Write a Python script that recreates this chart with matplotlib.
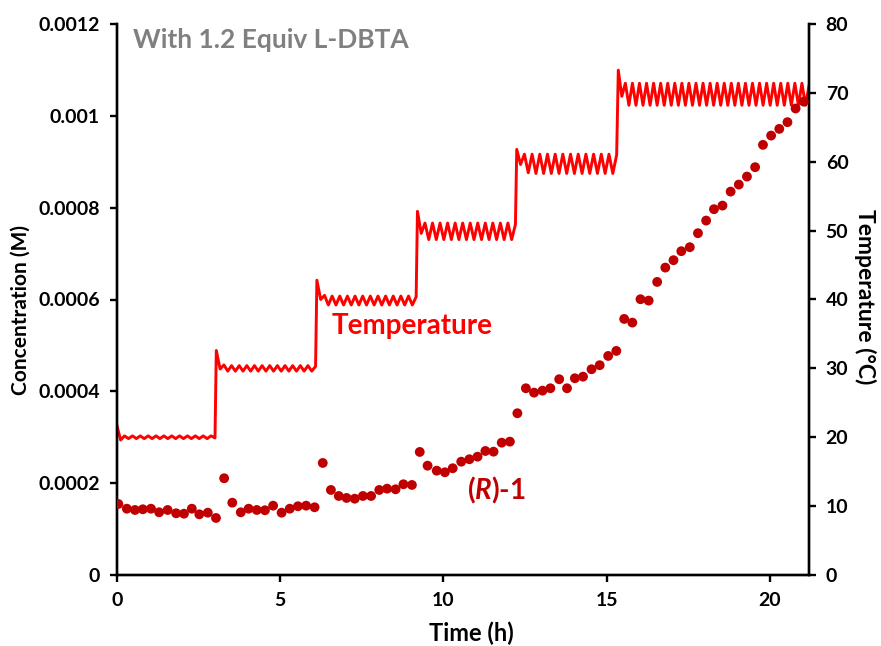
import numpy as np
import matplotlib
matplotlib.use("Agg")
import matplotlib.pyplot as plt

plt.rcParams['font.family'] = ['Lato', 'DejaVu Sans']
plt.rcParams['font.weight'] = 'bold'
plt.rcParams['mathtext.fontset'] = 'custom'
plt.rcParams['mathtext.it'] = 'Lato:italic:bold'
plt.rcParams['mathtext.rm'] = 'Lato:bold'

# ---- (R)-1 concentration data ----
conc_time = [0.05, 0.31, 0.56, 0.80, 1.05, 1.30, 1.56, 1.82, 2.06, 2.30, 2.53, 2.79, 3.04,
             3.29, 3.54, 3.80, 4.04, 4.29, 4.54, 4.79, 5.05, 5.30, 5.55, 5.80, 6.06,
             6.31, 6.56, 6.80, 7.04, 7.29, 7.54, 7.79, 8.04, 8.28, 8.54, 8.78, 9.04,
             9.28, 9.52, 9.80, 10.05, 10.29, 10.55, 10.80, 11.05, 11.29, 11.54, 11.79, 12.04,
             12.27, 12.53, 12.78, 13.04, 13.28, 13.55, 13.79, 14.03, 14.28, 14.54, 14.79, 15.05,
             15.30, 15.54, 15.79, 16.04, 16.29, 16.55, 16.80, 17.05, 17.29, 17.55, 17.80, 18.05,
             18.29, 18.55, 18.80, 19.05, 19.30, 19.55, 19.79, 20.04, 20.29, 20.54, 20.79, 21.04]
conc_value = [0.0001547, 0.0001444, 0.0001416, 0.0001431, 0.0001444, 0.0001366, 0.0001416,
              0.0001344, 0.0001335, 0.0001444, 0.0001322, 0.0001357, 0.0001242,
              0.0002107, 0.0001575, 0.0001366, 0.0001444, 0.0001416, 0.0001410, 0.0001510,
              0.0001357, 0.0001444, 0.0001497, 0.0001510, 0.0001475,
              0.0002440, 0.0001852, 0.0001721, 0.0001678, 0.0001662, 0.0001721, 0.0001721,
              0.0001852, 0.0001880, 0.0001867, 0.0001976, 0.0001961,
              0.0002680, 0.0002381, 0.0002272, 0.0002237, 0.0002325, 0.0002468, 0.0002521,
              0.0002577, 0.0002701, 0.0002686, 0.0002882, 0.0002904,
              0.0003523, 0.0004067, 0.0003972, 0.0004015, 0.0004067, 0.0004264, 0.0004067,
              0.0004285, 0.0004320, 0.0004481, 0.0004569, 0.0004771,
              0.0004880, 0.0005577, 0.0005497, 0.0006006, 0.0005976, 0.0006383, 0.0006695,
              0.0006856, 0.0007052, 0.0007139, 0.0007444, 0.0007719,
              0.0007967, 0.0008045, 0.0008350, 0.0008503, 0.0008677, 0.0008882, 0.0009368,
              0.0009570, 0.0009716, 0.0009862, 0.0010160, 0.0010310]

# ---- Temperature record (peaks / troughs), one list per set-point segment ----
seg_start = [0.0, 3.05, 6.13, 9.21, 12.25, 15.36]
seg_end = [3.01, 6.09, 9.17, 12.21, 15.31, 21.2]
temp_seg1 = [21.8, 19.6, 20.2, 19.8, 20.2, 19.8, 20.2, 19.8, 20.2, 19.8, 20.2, 19.8, 20.2,
             19.8, 20.2, 19.8, 20.2, 19.8, 20.2, 19.8, 20.2, 19.8, 20.2, 19.8, 20.2, 19.9]
temp_seg2 = [32.6, 29.9, 30.5, 29.6, 30.4, 29.6, 30.4, 29.6, 30.4, 29.6, 30.4, 29.6, 30.4,
             29.6, 30.4, 29.6, 30.4, 29.6, 30.4, 29.6, 30.4, 29.6, 30.4, 29.6, 30.4, 29.6, 30.3]
temp_seg3 = [42.8, 40.0, 40.6, 39.2, 40.5, 39.2, 40.5, 39.2, 40.5, 39.2, 40.5, 39.2, 40.5,
             39.2, 40.5, 39.2, 40.5, 39.2, 40.5, 39.2, 40.5, 39.2, 40.5, 39.2, 40.5, 39.2, 40.4]
temp_seg4 = [52.8, 49.6, 51.1, 48.7, 51.1, 48.7, 51.1, 48.7, 51.1, 48.7, 51.1, 48.7, 51.1,
             48.7, 51.1, 48.7, 51.1, 48.7, 51.1, 48.7, 51.1, 48.7, 51.1, 48.7, 51.1, 48.7, 50.9]
temp_seg5 = [61.8, 59.6, 61.1, 58.4, 61.1, 58.3, 61.1, 58.3, 61.1, 58.3, 61.1, 58.3, 61.1,
             58.3, 61.1, 58.3, 61.1, 58.3, 61.1, 58.3, 61.1, 58.3, 61.1, 58.3, 61.1, 58.3, 61.0]
temp_seg6 = [73.3, 69.5, 71.4, 68.2, 71.4, 68.2, 71.4, 68.2, 71.4, 68.2, 71.4, 68.2, 71.4,
             68.2, 71.4, 68.2, 71.4, 68.2, 71.4, 68.2, 71.4, 68.2, 71.4, 68.2, 71.4, 68.2, 71.4,
             68.2, 71.4, 68.2, 71.4, 68.2, 71.4, 68.2, 71.4, 68.2, 71.4, 68.2, 71.4, 68.2, 71.4,
             68.2, 71.4, 68.2, 71.4, 68.2, 71.4, 68.2, 71.4, 68.2, 71.4, 68.2, 71.4, 68.2, 71.0]
temp_segments = [temp_seg1, temp_seg2, temp_seg3, temp_seg4, temp_seg5, temp_seg6]

conc_ticks = [0, 0.0002, 0.0004, 0.0006, 0.0008, 0.001, 0.0012]
conc_ticklabels = ['0', '0.0002', '0.0004', '0.0006', '0.0008', '0.001', '0.0012']
temp_ticks = [0, 10, 20, 30, 40, 50, 60, 70, 80]
time_ticks = [0, 5, 10, 15, 20]

# ---- assemble temperature series ----
temp_time = np.concatenate([np.linspace(s, e, len(v)) for s, e, v in zip(seg_start, seg_end, temp_segments)])
temp_value = np.concatenate([np.array(v) for v in temp_segments])

fig = plt.figure(figsize=(8.81, 6.46), dpi=100)
ax = fig.add_axes([116.7 / 881, 71 / 646, (809 - 116.7) / 881, 551 / 646])
ax2 = ax.twinx()

ax2.plot(temp_time, temp_value, color='#FF0000', lw=2.1, solid_joinstyle='round')
ax.scatter(conc_time, conc_value, s=50, color='#C00000', edgecolors='none', zorder=3)

ax.set_zorder(ax2.get_zorder() + 1)
ax.patch.set_visible(False)

ax.set_xlim(0, 21.2)
ax.set_ylim(0, 0.0012)
ax2.set_ylim(0, 80)
ax.set_xticks(time_ticks)
ax.set_yticks(conc_ticks)
ax.set_yticklabels(conc_ticklabels)
ax2.set_yticks(temp_ticks)

for a in (ax, ax2):
    a.spines['top'].set_visible(False)
    for sp in ('left', 'right', 'bottom'):
        a.spines[sp].set_linewidth(1.7)
        a.spines[sp].set_color('black')
    a.tick_params(direction='out', length=5, width=1.7, labelsize=14, colors='black', pad=7)

ax.set_xlabel('Time (h)', fontsize=17, fontweight='bold')
ax.xaxis.set_label_coords(0.513, -0.085)
ax.set_ylabel('Concentration (M)', fontsize=15, fontweight='bold')
ax.yaxis.set_label_coords(-0.125, 0.481)
ax2.set_ylabel('Temperature (\u00b0C)', fontsize=16.5, fontweight='bold', rotation=270)
ax2.yaxis.set_label_coords(1.097, 0.505)

fig.text(133 / 881, 1 - 40 / 646, 'With 1.2 Equiv L-DBTA', color='#808080', fontsize=19,
         fontweight='bold', ha='left', va='center')
ax2.text(9.04, 36.15, 'Temperature', color='#FF0000', fontsize=20, fontweight='bold',
         ha='center', va='center')
ax.text(11.61, 0.000185, '($\\mathit{R}$)-1', color='#C00000', fontsize=20, fontweight='bold',
        ha='center', va='center')

fig.savefig('out.png', dpi=100)
